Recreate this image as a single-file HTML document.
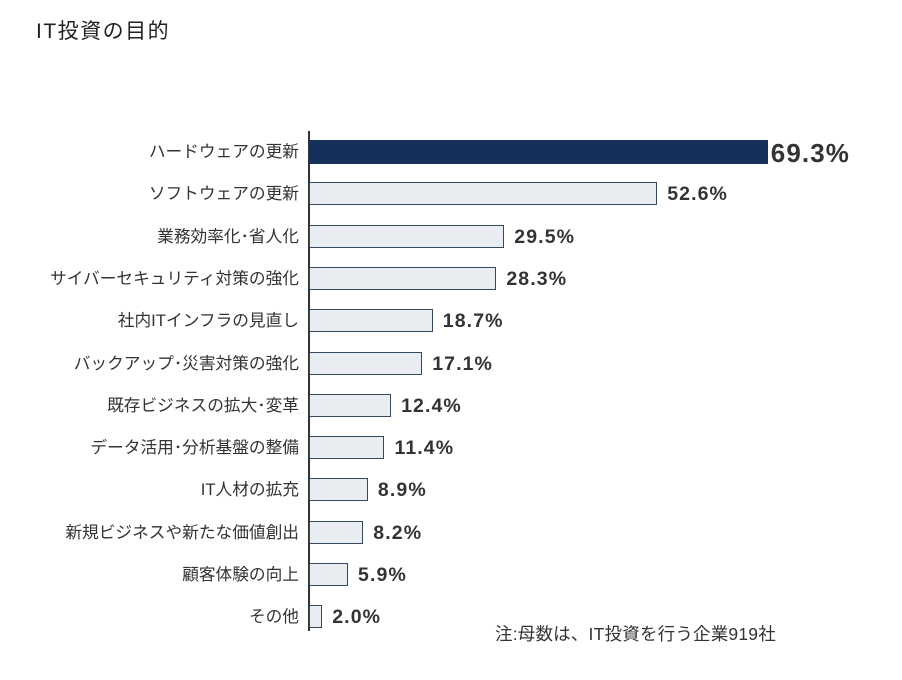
<!DOCTYPE html>
<html><head><meta charset="utf-8"><style>
body{margin:0;width:902px;height:680px;background:#fff;position:relative;font-family:"Liberation Sans","Noto Sans CJK JP",sans-serif;color:#222;overflow:hidden}
.t{position:absolute;left:36px;top:15px;font-size:21px;letter-spacing:1.5px}
.ax{position:absolute;left:308px;top:131px;width:1.5px;height:500px;background:#333}
.l{position:absolute;right:603px;font-size:16.7px;white-space:nowrap;line-height:20px;color:#333}
.b{position:absolute;left:309px;height:23px;background:#e9ecf1;border:1px solid #34495e;box-sizing:border-box}
.v{position:absolute;font-size:19.5px;font-weight:bold;color:#333;line-height:20px;letter-spacing:1.1px}
.n{position:absolute;left:495px;top:621px;font-size:17.5px;color:#333;letter-spacing:0.2px}
</style></head><body>
<div class="t">IT投資の目的</div>
<div class="ax"></div>
<div id="c"></div>
<div class="n">注:母数は、IT投資を行う企業919社</div>
<script>
var d=[["ハードウェアの更新",69.3],["ソフトウェアの更新",52.6],["業務効率化･省人化",29.5],["サイバーセキュリティ対策の強化",28.3],["社内ITインフラの見直し",18.7],["バックアップ･災害対策の強化",17.1],["既存ビジネスの拡大･変革",12.4],["データ活用･分析基盤の整備",11.4],["IT人材の拡充",8.9],["新規ビジネスや新たな価値創出",8.2],["顧客体験の向上",5.9],["その他",2.0]];
var h="";d.forEach(function(r,i){var top=140+i*42.3;var w=r[1]*6.62;
h+='<div class="l" style="top:'+(top+2)+'px">'+r[0]+'</div>';
h+='<div class="b" style="top:'+top+'px;width:'+w+'px;'+(i==0?'background:#15305a;border-color:#15305a;height:24px':'')+'"></div>';
h+='<div class="v" style="left:'+(309+w+(i==0?3:10))+'px;top:'+(top+(i==0?1:2))+'px;'+(i==0?'font-size:26px;line-height:24px;':'')+'">'+r[1].toFixed(1)+'%</div>';});
document.getElementById("c").innerHTML=h;
</script>
</body></html>
